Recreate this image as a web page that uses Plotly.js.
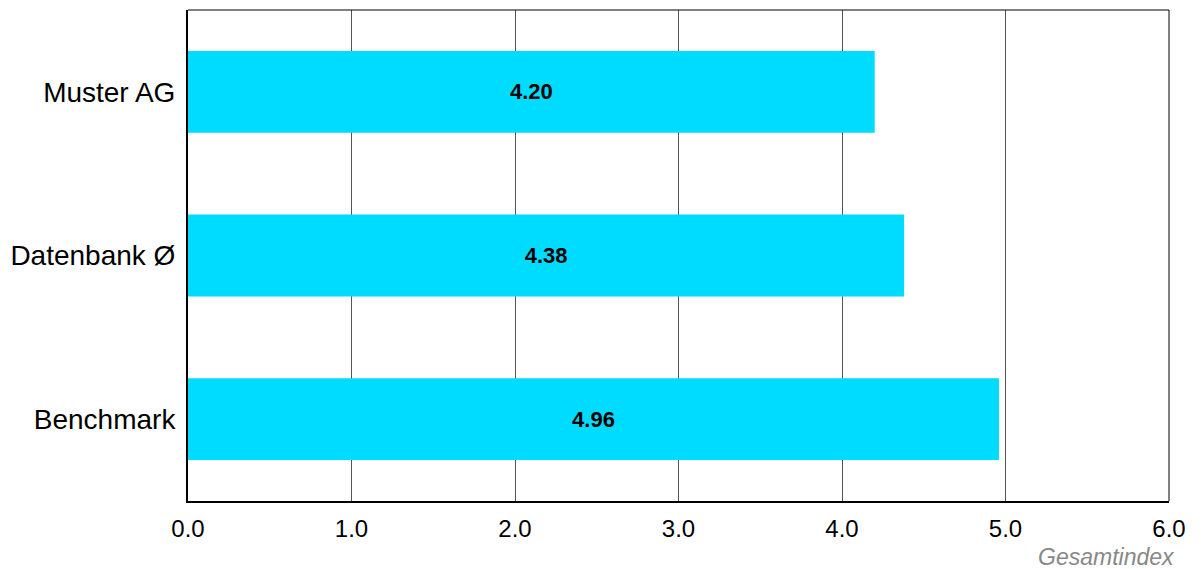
<!DOCTYPE html>
<html><head><meta charset="utf-8">
<script src="https://cdn.plot.ly/plotly-3.0.1.min.js"></script>
<style>html,body{margin:0;padding:0;background:#fff}#chart{width:1201px;height:569px}</style>
</head><body><div id="chart"></div>
<script>
const categories = ["Muster AG", "Datenbank Ø", "Benchmark"];
const values = [4.20, 4.38, 4.96];
const tickVals = [0, 1, 2, 3, 4, 5, 6];
const tickText = ["0.0", "1.0", "2.0", "3.0", "4.0", "5.0", "6.0"];
const axisTitle = "Gesamtindex";

const trace = {
  type: "bar", orientation: "h",
  x: values, y: categories,
  marker: {color: "#00DCFF"},
  width: 0.5,
  text: values.map(v => v.toFixed(2)),
  textposition: "inside", insidetextanchor: "middle",
  textfont: {family: "Liberation Sans, Arial, sans-serif", size: 22, color: "#000", weight: "bold"},
  hoverinfo: "none"
};
const layout = {
  width: 1201, height: 569,
  margin: {l: 188, r: 32, t: 10, b: 68},
  paper_bgcolor: "#fff", plot_bgcolor: "#fff",
  showlegend: false,
  font: {family: "Liberation Sans, Arial, sans-serif", color: "#000"},
  xaxis: {
    range: [0, 6], tickvals: tickVals, ticktext: tickText,
    showgrid: true, gridcolor: "#555", gridwidth: 1,
    zeroline: false, showline: true, linecolor: "#000", linewidth: 2,
    ticks: "outside", ticklen: 5, tickcolor: "rgba(0,0,0,0)",
    tickfont: {size: 24, color: "#000"}, fixedrange: true
  },
  yaxis: {
    autorange: "reversed", categoryorder: "array", categoryarray: categories,
    showgrid: false, zeroline: false, showline: true, linecolor: "#000", linewidth: 2,
    ticks: "outside", ticklen: 5, tickcolor: "rgba(0,0,0,0)",
    tickfont: {size: 28, color: "#000"}, fixedrange: true
  },
  shapes: [
    {type: "line", xref: "paper", yref: "paper", x0: 0, x1: 1, y0: 1, y1: 1, line: {color: "#000", width: 1}},
    {type: "line", xref: "paper", yref: "paper", x0: 1, x1: 1, y0: 0, y1: 1, line: {color: "#000", width: 1}}
  ],
  annotations: [{
    text: axisTitle, xref: "paper", yref: "paper", x: 1, y: 0,
    xanchor: "right", yanchor: "middle", xshift: 8, yshift: -56, showarrow: false,
    font: {size: 23, color: "#888", style: "italic"}
  }]
};
Plotly.newPlot("chart", [trace], layout, {displayModeBar: false, staticPlot: true});
</script></body></html>
